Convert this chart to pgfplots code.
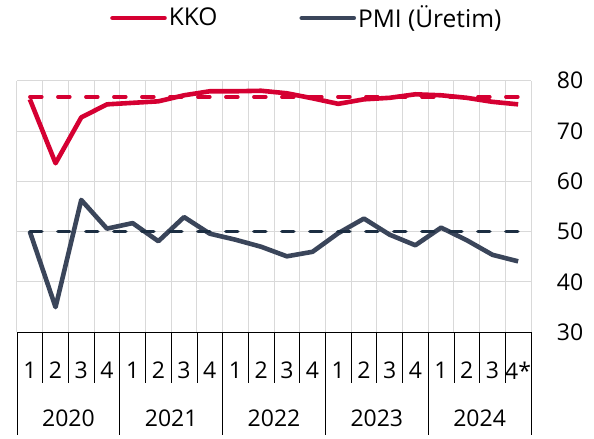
\documentclass[border=0pt]{standalone}
\usepackage{pgfplots}
\pgfplotsset{compat=1.18}
\usepackage{fontspec}
\setmainfont{Open Sans}
\definecolor{kko}{RGB}{213,0,50}
\definecolor{pmi}{RGB}{58,69,90}
\definecolor{pmidash}{RGB}{28,46,66}
\definecolor{gridgray}{RGB}{217,217,217}
\pgfplotstableread{
x kko pmi
0 76.3 50.0
1 63.6 35.0
2 72.7 56.3
3 75.3 50.6
4 75.6 51.7
5 75.9 48.1
6 77.1 52.9
7 77.9 49.6
8 77.9 48.4
9 78.0 47.0
10 77.5 45.1
11 76.5 46.0
12 75.4 49.7
13 76.3 52.6
14 76.6 49.4
15 77.3 47.3
16 77.1 50.8
17 76.6 48.3
18 75.8 45.4
19 75.3 44.1
}\datatable
\begin{document}
\fontsize{23bp}{27bp}\selectfont
\begin{tikzpicture}
\path[use as bounding box] (-17bp,-106.7bp) rectangle (577bp,332.3bp);
\begin{axis}[
 at={(0,0)}, anchor=south west,
 scale only axis, width=514bp, height=251.6bp,
 xmin=-0.5, xmax=19.5, ymin=30, ymax=80,
 clip=false,
 axis line style={draw=none},
 ytick={30,40,...,80},
 yticklabel pos=right,
 ymajorgrids,
 xtick={0,...,19},
 xticklabels={1,2,3,4,1,2,3,4,1,2,3,4,1,2,3,4,1,2,3,4*},
 minor xtick={-0.5,0.5,...,19.5},
 xminorgrids,
 grid style={gridgray, line width=1bp},
 minor grid style={gridgray, line width=1bp},
 major tick length=0pt, minor tick length=0pt,
 tick style={draw=none},
 tick label style={font=\fontsize{23bp}{27bp}\selectfont},
 /pgf/number format/assume math mode=true,
 yticklabel style={anchor=center, xshift=39bp},
 xticklabel style={anchor=center, yshift=-38bp},
 extra x ticks={1.5,5.5,9.5,13.5,17.5},
 extra x tick labels={2020,2021,2022,2023,2024},
 extra x tick style={xmajorgrids=false, xticklabel style={yshift=-48bp}},
 legend style={at={(rel axis cs:0.181,1.249)}, anchor=west, draw=none, fill=none,
   legend columns=2, inner sep=0pt, font=\fontsize{24.5bp}{28bp}\selectfont,
   /tikz/every even column/.append style={column sep=80bp}},
 legend cell align=left,
 legend image code/.code={\draw[#1, line cap=round] (0bp,0bp) -- (52bp,0bp);},
]
\addplot[kko, line width=4.6bp, line join=round] table[x=x, y=kko] {\datatable};
\addlegendentry{KKO}
\addplot[pmi, line width=4.6bp, line join=round] table[x=x, y=pmi] {\datatable};
\addlegendentry{PMI (Üretim)}
\addplot[kko, line width=3.5bp, line cap=round, dash pattern=on 12bp off 16bp, forget plot] coordinates {(0,76.8) (19,76.8)};
\addplot[pmidash, line width=3.5bp, line cap=round, dash pattern=on 12bp off 16bp, forget plot] coordinates {(0,50) (19,50)};
\draw[black, line width=1bp] (axis cs:-0.5,30) -- (axis cs:19.5,30);
\pgfplotsinvokeforeach{0.5,1.5,2.5,4.5,5.5,6.5,8.5,9.5,10.5,12.5,13.5,14.5,16.5,17.5,18.5}{
 \draw[black, line width=0.8bp] (axis cs:#1,30) -- ++(0pt,-51bp);
}
\pgfplotsinvokeforeach{-0.5,3.5,7.5,11.5,15.5,19.5}{
 \draw[black, line width=0.8bp] (axis cs:#1,30) -- ++(0pt,-103bp);
}
\end{axis}
\end{tikzpicture}
\end{document}
